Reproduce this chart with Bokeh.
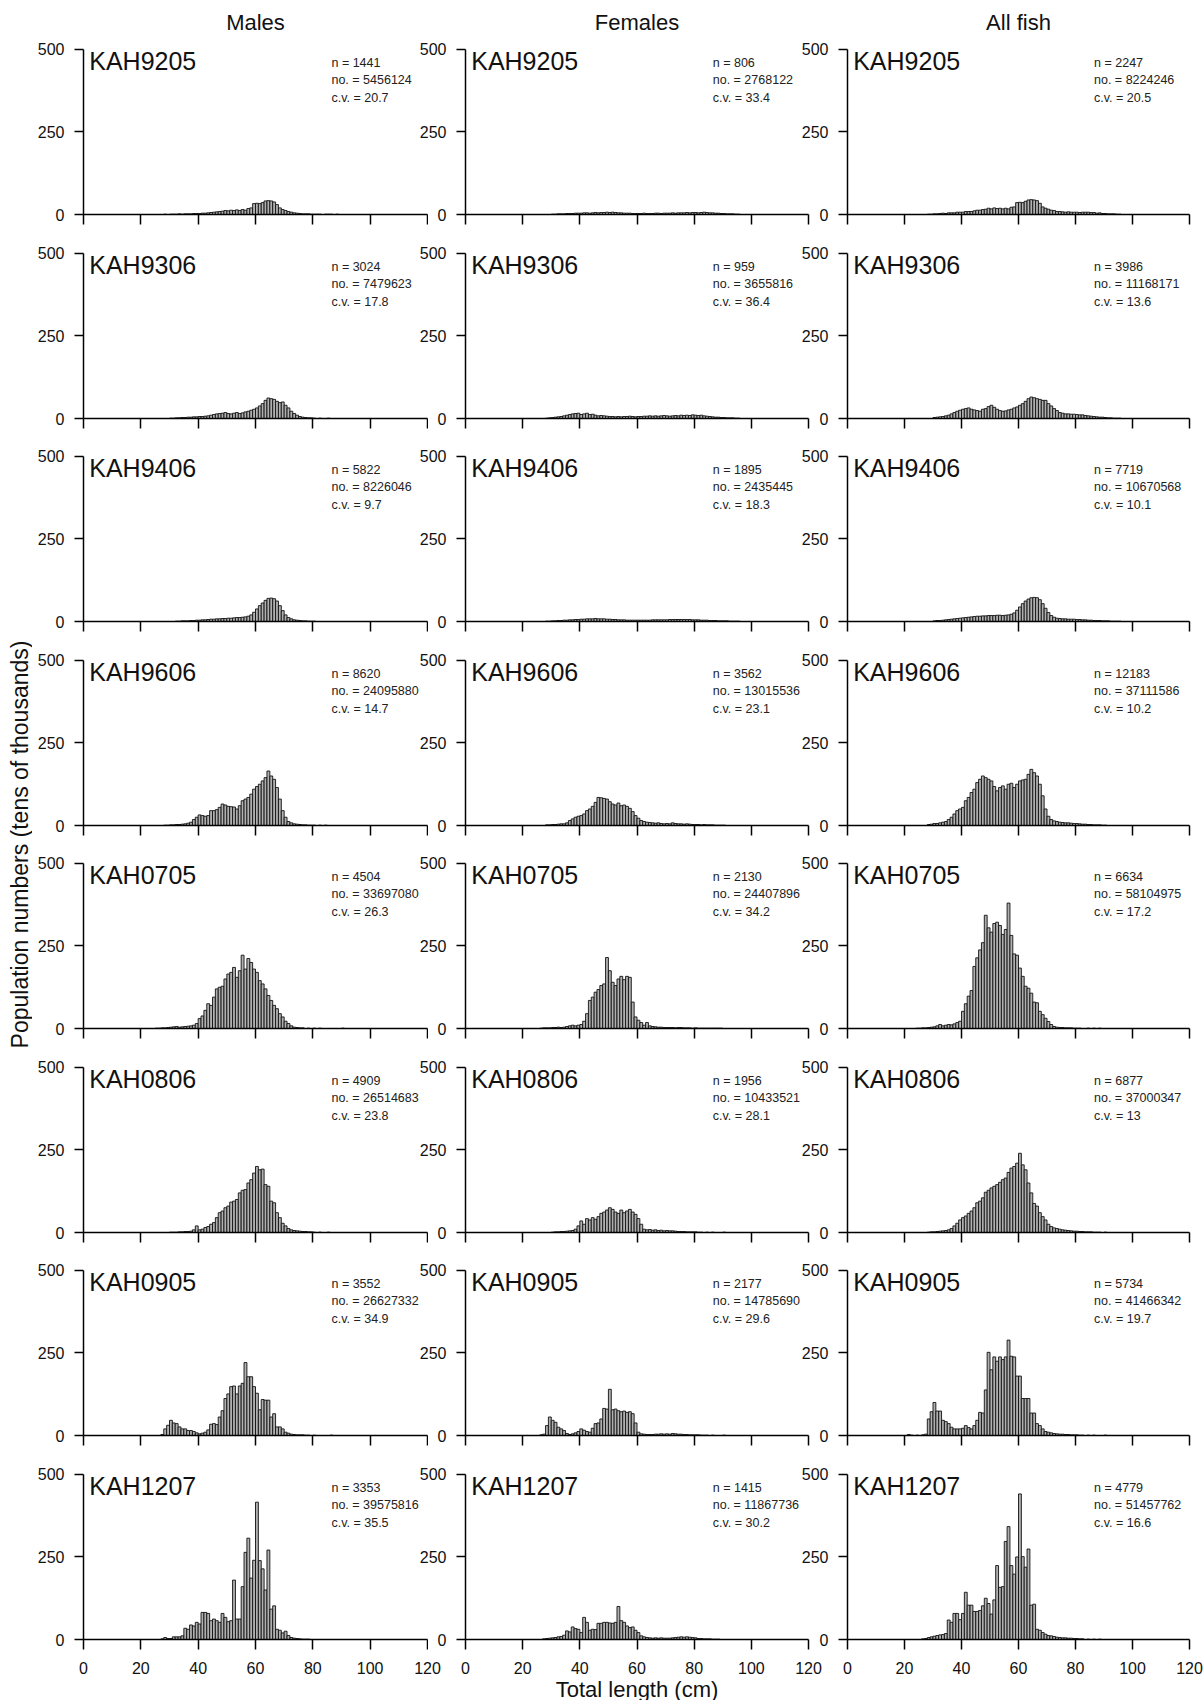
import numpy as np
from bokeh.plotting import figure
from bokeh.layouts import row, column
from bokeh.models import Range1d, FixedTicker, ColumnDataSource
from bokeh.core.properties import value
from bokeh.embed import file_html
from bokeh.resources import INLINE

FONT = "Liberation Sans"

COLUMN_TITLES = ["Males", "Females", "All fish"]
TRIPS = ["KAH9205", "KAH9306", "KAH9406", "KAH9606", "KAH0705", "KAH0806", "KAH0905", "KAH1207"]
X_TICKS = [0, 20, 40, 60, 80, 100, 120]
Y_TICKS = [0, 250, 500]
X_LABEL = "Total length (cm)"
Y_LABEL = "Population numbers (tens of thousands)"

# sample size, estimated number, c.v. per trip
N_MALES = [1441, 3024, 5822, 8620, 4504, 4909, 3552, 3353]
NO_MALES = [5456124, 7479623, 8226046, 24095880, 33697080, 26514683, 26627332, 39575816]
CV_MALES = ["20.7", "17.8", "9.7", "14.7", "26.3", "23.8", "34.9", "35.5"]
N_FEMALES = [806, 959, 1895, 3562, 2130, 1956, 2177, 1415]
NO_FEMALES = [2768122, 3655816, 2435445, 13015536, 24407896, 10433521, 14785690, 11867736]
CV_FEMALES = ["33.4", "36.4", "18.3", "23.1", "34.2", "28.1", "29.6", "30.2"]
N_ALL = [2247, 3986, 7719, 12183, 6634, 6877, 5734, 4779]
NO_ALL = [8224246, 11168171, 10670568, 37111586, 58104975, 37000347, 41466342, 51457762]
CV_ALL = ["20.5", "13.6", "10.1", "10.2", "17.2", "13", "19.7", "16.6"]

# length bin (cm) -> population number (tens of thousands)
MALES_KAH9205 = {28:1,30:1,31:1,32:1,33:2,34:1,35:2,36:2,37:2,38:3,39:3,40:3,41:4,42:4,43:5,44:6,45:7,46:8,47:9,48:10,49:12,50:11,51:13,52:12,53:14,54:12,55:15,56:13,57:18,58:20,59:33,60:34,61:33,62:36,63:41,64:42,65:41,66:38,67:30,68:20,69:15,70:12,71:9,72:7,73:5,74:4,75:3,76:2,77:2,78:2,79:1,80:1,81:1,82:1,84:1,85:1,86:1,88:1}
FEMALES_KAH9205 = {30:1,31:1,32:2,33:2,34:2,35:3,36:3,37:3,38:4,39:4,40:4,41:5,42:5,43:4,44:5,45:6,46:5,47:6,48:6,49:7,50:6,51:7,52:6,53:5,54:5,55:4,56:4,57:4,58:3,59:3,60:3,61:3,62:4,63:3,64:3,65:3,66:4,67:4,68:3,69:4,70:4,71:4,72:5,73:4,74:5,75:5,76:5,77:6,78:5,79:6,80:6,81:5,82:6,83:7,84:6,85:5,86:5,87:4,88:4,89:3,90:3,91:2,92:2,93:2,94:1,95:1}
ALL_KAH9205 = {28:1,29:1,30:2,31:2,32:3,33:4,34:3,35:5,36:5,37:5,38:7,39:7,40:7,41:9,42:9,43:9,44:11,45:13,46:13,47:15,48:16,49:19,50:17,51:20,52:18,53:19,54:17,55:19,56:17,57:22,58:23,59:36,60:37,61:36,62:40,63:44,64:45,65:44,66:42,67:34,68:23,69:19,70:16,71:13,72:12,73:9,74:9,75:8,76:7,77:8,78:7,79:7,80:7,81:6,82:7,83:7,84:7,85:6,86:6,87:4,88:5,89:3,90:3,91:2,92:2,93:2,94:1,95:1}

MALES_KAH9306 = {30:1,31:1,32:2,33:2,34:3,35:3,36:4,37:4,38:5,39:5,40:6,41:6,42:7,43:8,44:10,45:12,46:14,47:15,48:16,49:18,50:15,51:14,52:16,53:18,54:15,55:17,56:20,57:22,58:25,59:28,60:32,61:38,62:45,63:55,64:62,65:60,66:58,67:52,68:48,69:50,70:40,71:32,72:22,73:15,74:10,75:6,76:4,77:3,78:2,79:2,80:1,82:1,85:1}
FEMALES_KAH9306 = {28:1,29:2,30:3,31:4,32:5,33:6,34:8,35:10,36:12,37:14,38:15,39:16,40:12,41:14,42:16,43:12,44:13,45:10,46:8,47:9,48:8,49:7,50:6,51:6,52:5,53:6,54:5,55:6,56:6,57:7,58:6,59:5,60:6,61:6,62:7,63:7,64:8,65:7,66:8,67:7,68:8,69:9,70:8,71:7,72:8,73:9,74:8,75:10,76:9,77:10,78:9,79:11,80:10,81:9,82:10,83:8,84:7,85:6,86:5,87:4,88:4,89:3,90:3,91:2,92:2,93:2,94:1,95:1}
ALL_KAH9306 = {30:3,31:4,32:5,33:6,34:8,35:10,36:14,37:18,38:22,39:25,40:28,41:30,42:32,43:28,44:26,45:24,46:22,47:28,48:30,49:36,50:40,51:34,52:28,53:24,54:22,55:23,56:26,57:28,58:32,59:35,60:40,61:45,62:52,63:60,64:65,65:63,66:60,67:58,68:55,69:55,70:45,71:38,72:30,73:24,74:18,75:16,76:14,77:14,78:13,79:13,80:12,81:11,82:11,83:9,84:8,85:7,86:6,87:5,88:4,89:4,90:3,91:2,92:2,93:1,94:1,95:1}

MALES_KAH9406 = {32:1,33:1,34:2,35:2,36:2,37:3,38:3,39:4,40:4,41:5,42:5,43:6,44:7,45:7,46:8,47:8,48:9,49:9,50:10,51:10,52:11,53:12,54:12,55:13,56:14,57:16,58:20,59:28,60:38,61:48,62:56,63:64,64:70,65:71,66:69,67:62,68:48,69:33,70:20,71:12,72:8,73:5,74:4,75:3,76:2,77:2,78:1,79:1,80:1}
FEMALES_KAH9406 = {28:1,29:1,30:2,31:2,32:3,33:3,34:4,35:4,36:5,37:5,38:6,39:6,40:7,41:7,42:8,43:8,44:8,45:9,46:8,47:8,48:8,49:7,50:7,51:6,52:6,53:5,54:5,55:5,56:4,57:4,58:4,59:4,60:4,61:4,62:4,63:4,64:4,65:5,66:5,67:5,68:5,69:5,70:5,71:6,72:6,73:6,74:6,75:6,76:6,77:6,78:6,79:5,80:5,81:5,82:4,83:4,84:4,85:3,86:3,87:3,88:2,89:2,90:2,91:2,92:1,93:1,94:1,95:1}
ALL_KAH9406 = {30:2,31:3,32:3,33:4,34:5,35:6,36:7,37:8,38:9,39:10,40:11,41:12,42:13,43:14,44:15,45:16,46:16,47:17,48:17,49:18,50:18,51:18,52:19,53:19,54:18,55:19,56:20,57:22,58:26,59:34,60:44,61:54,62:62,63:68,64:72,65:73,66:72,67:66,68:54,69:40,70:27,71:18,72:13,73:10,74:9,75:8,76:8,77:7,78:7,79:7,80:6,81:6,82:5,83:5,84:4,85:4,86:3,87:3,88:3,89:2,90:2,91:2,92:1,93:1,94:1,95:1}

MALES_KAH9606 = {28:1,29:1,30:2,31:2,32:3,33:3,34:4,35:5,36:7,37:10,38:18,39:25,40:32,41:30,42:28,43:30,44:45,45:45,46:48,47:55,48:65,49:62,50:58,51:57,52:56,53:50,54:60,55:75,56:80,57:85,58:95,59:110,60:118,61:125,62:135,63:145,64:165,65:150,66:140,67:115,68:80,69:45,70:25,71:12,72:8,73:5,74:4,75:3,76:2,77:2,78:1,79:1,80:1,82:1,84:1}
FEMALES_KAH9606 = {28:2,29:2,30:3,31:3,32:4,33:5,34:5,35:8,36:15,37:20,38:25,39:28,40:30,41:35,42:45,43:50,44:58,45:70,46:85,47:84,48:82,49:80,50:72,51:65,52:62,53:68,54:60,55:62,56:58,57:52,58:42,59:30,60:22,61:15,62:12,63:10,64:9,65:8,66:7,67:8,68:6,69:5,70:6,71:5,72:8,73:6,74:5,75:5,76:4,77:5,78:4,79:3,80:3,81:3,82:2,83:3,84:2,85:2,86:2,87:1,88:1,89:1,90:1}
ALL_KAH9606 = {28:3,29:4,30:6,31:6,32:8,33:10,34:12,35:18,36:25,37:35,38:45,39:50,40:55,41:75,42:85,43:100,44:110,45:130,46:140,47:150,48:145,49:140,50:135,51:118,52:105,53:115,54:120,55:110,56:125,57:128,58:115,59:125,60:135,61:138,62:140,63:155,64:170,65:160,66:150,67:125,68:90,69:50,70:28,71:18,72:14,73:12,74:10,75:9,76:8,77:8,78:7,79:6,80:6,81:5,82:4,83:4,84:3,85:3,86:2,87:2,88:2,89:1,90:1}

MALES_KAH0705 = {25:1,26:1,27:2,28:2,29:3,30:4,31:5,32:6,33:4,34:5,35:6,36:7,37:8,38:10,39:15,40:30,41:38,42:55,43:75,44:70,45:95,46:120,47:125,48:128,49:150,50:165,51:170,52:185,53:155,54:175,55:222,56:180,57:212,58:200,59:180,60:170,61:145,62:135,63:120,64:100,65:85,66:70,67:60,68:45,69:35,70:22,71:15,72:8,73:4,74:3,75:2,76:2,78:1,80:1,82:1,90:1}
FEMALES_KAH0705 = {26:1,27:2,28:2,29:2,30:3,31:3,32:4,33:3,34:4,35:6,36:8,37:10,38:8,39:10,40:12,41:22,42:45,43:85,44:95,45:110,46:118,47:130,48:135,49:215,50:175,51:140,52:130,53:150,54:158,55:148,56:158,57:155,58:80,59:35,60:25,61:18,62:10,63:18,64:8,65:6,66:5,67:4,68:4,69:3,70:3,71:3,72:3,73:2,74:3,75:3,76:2,77:2,78:2,79:1,80:2,81:1,82:1,83:1,84:1,85:1,86:1,87:1,88:1,89:1}
ALL_KAH0705 = {24:1,25:1,26:2,27:2,28:3,29:4,30:5,31:8,32:12,33:8,34:10,35:12,36:11,37:14,38:18,39:22,40:52,41:75,42:98,43:115,44:188,45:214,46:238,47:260,48:343,49:305,50:292,51:318,52:322,53:312,54:285,55:300,56:380,57:282,58:226,59:222,60:183,61:158,62:128,63:122,64:107,65:80,66:78,67:52,68:42,69:31,70:21,71:12,72:6,73:4,74:3,75:3,76:2,77:2,78:2,79:1,80:1,81:1,84:1,86:1,88:1}

MALES_KAH0806 = {30:1,31:1,32:1,33:2,34:2,35:3,36:3,37:4,38:8,39:20,40:8,41:10,42:15,43:18,44:25,45:30,46:45,47:60,48:65,49:75,50:80,51:92,52:95,53:100,54:120,55:128,56:130,57:150,58:160,59:180,60:200,61:190,62:192,63:145,64:140,65:95,66:90,67:60,68:45,69:28,70:20,71:12,72:8,73:6,74:5,75:4,76:3,77:3,78:2,79:2,80:1,82:1,85:1}
FEMALES_KAH0806 = {30:1,31:2,32:2,33:3,34:3,35:4,36:5,37:6,38:10,39:20,40:35,41:25,42:42,43:38,44:45,45:40,46:48,47:58,48:62,49:68,50:75,51:70,52:62,53:58,54:68,55:60,56:65,57:70,58:62,59:55,60:42,61:25,62:10,63:8,64:9,65:7,66:8,67:6,68:7,69:5,70:6,71:5,72:5,73:4,74:3,75:3,76:3,77:2,78:2,79:2,80:2,81:1,82:1,84:1,86:1,90:1}
ALL_KAH0806 = {28:1,29:2,30:2,31:3,32:4,33:5,34:6,35:8,36:12,37:20,38:28,39:38,40:45,41:50,42:58,43:65,44:75,45:90,46:95,47:105,48:122,49:128,50:135,51:140,52:145,53:152,54:160,55:165,56:182,57:195,58:200,59:210,60:240,61:205,62:190,63:150,64:120,65:88,66:80,67:60,68:48,69:38,70:25,71:18,72:14,73:12,74:10,75:8,76:7,77:6,78:5,79:4,80:4,81:3,82:3,83:2,84:2,85:2,86:1,87:1,88:1,90:1}

MALES_KAH0905 = {27:3,28:20,29:31,30:46,31:38,32:36,33:26,34:20,35:20,36:15,37:15,38:12,39:8,40:5,41:7,42:10,43:17,44:34,45:36,46:33,47:56,48:75,49:112,50:126,51:148,52:150,53:126,54:150,55:158,56:221,57:178,58:178,59:148,60:128,61:78,62:109,63:107,64:107,65:56,66:66,67:26,68:26,69:20,70:10,71:7,72:4,73:3,74:2,75:2,76:2,77:1,78:1,80:1,86:1}
FEMALES_KAH0905 = {26:2,27:4,28:30,29:56,30:46,31:40,32:25,33:20,34:15,35:6,36:3,37:5,38:8,39:12,40:20,41:16,42:12,43:10,44:22,45:36,46:38,47:50,48:82,49:80,50:140,51:78,52:80,53:75,54:72,55:74,56:70,57:72,58:66,59:38,60:10,61:5,62:4,63:3,64:3,65:3,66:4,67:4,68:5,69:4,70:5,71:4,72:6,73:5,74:4,75:4,76:3,77:3,78:2,79:2,80:2,81:2,82:1,83:1,84:1,86:1,90:1}
ALL_KAH0905 = {21:3,22:1,24:1,26:2,27:4,28:50,29:72,30:100,31:74,32:74,33:46,34:42,35:36,36:25,37:20,38:20,39:20,40:22,41:30,42:24,43:20,44:30,45:46,46:70,47:68,48:138,49:252,50:199,51:238,52:225,53:238,54:230,55:238,56:289,57:240,58:238,59:180,60:180,61:112,62:112,63:112,64:68,65:68,66:36,67:30,68:20,69:12,70:10,71:8,72:6,73:5,74:4,75:4,76:3,77:3,78:2,79:2,80:2,81:1,82:1,84:1,86:1,90:1}

MALES_KAH1207 = {27:2,28:6,29:3,30:3,31:8,32:8,33:8,34:11,35:34,36:31,37:44,38:41,39:52,40:47,41:82,42:82,43:79,44:57,45:62,46:57,47:52,48:79,49:67,50:54,51:57,52:180,53:62,54:62,55:160,56:264,57:307,58:186,59:240,60:416,61:239,62:214,63:150,64:271,65:92,66:102,67:31,68:28,69:20,70:25,71:12,72:6,73:4,74:3,75:2,76:1,77:1,78:1}
FEMALES_KAH1207 = {27:2,28:3,29:4,30:5,31:6,32:8,33:9,34:13,35:26,36:23,37:38,38:33,39:31,40:21,41:67,42:52,43:28,44:31,45:30,46:49,47:49,48:52,49:52,50:50,51:49,52:52,53:100,54:57,55:52,56:41,57:36,58:38,59:28,60:21,61:11,62:8,63:6,64:5,65:4,66:5,67:4,68:5,69:4,70:4,71:4,72:5,73:6,74:7,75:8,76:7,77:8,78:7,79:6,80:5,81:3,82:3,83:2,84:2,85:2,86:1,87:1,88:1}
ALL_KAH1207 = {26:2,27:3,28:6,29:8,30:10,31:12,32:14,33:15,34:18,35:59,36:52,37:79,38:79,39:60,40:79,41:143,42:104,43:104,44:85,45:85,46:88,47:102,48:125,49:109,50:77,51:120,52:224,53:158,54:160,55:297,56:342,57:224,58:198,59:250,60:441,61:251,62:219,63:274,64:104,65:107,66:31,67:28,68:21,69:16,70:12,71:11,72:9,73:7,74:6,75:5,76:5,77:4,78:4,79:3,80:3,81:2,82:2,84:1,86:1,88:1}

MALES = [MALES_KAH9205, MALES_KAH9306, MALES_KAH9406, MALES_KAH9606, MALES_KAH0705, MALES_KAH0806, MALES_KAH0905, MALES_KAH1207]
FEMALES = [FEMALES_KAH9205, FEMALES_KAH9306, FEMALES_KAH9406, FEMALES_KAH9606, FEMALES_KAH0705, FEMALES_KAH0806, FEMALES_KAH0905, FEMALES_KAH1207]
ALL = [ALL_KAH9205, ALL_KAH9306, ALL_KAH9406, ALL_KAH9606, ALL_KAH0705, ALL_KAH0806, ALL_KAH0905, ALL_KAH1207]

SERIES = [MALES, FEMALES, ALL]
STATS = [(N_MALES, NO_MALES, CV_MALES), (N_FEMALES, NO_FEMALES, CV_FEMALES), (N_ALL, NO_ALL, CV_ALL)]

# ---------------- layout geometry ----------------
STRIP_W = 32
# panel columns: (width, border_left, border_right, margin_left)
PANEL_GEOM = [(396, 51, 1, 0), (397, 52, 2, -15), (409, 52, 15, -15)]
# header / tick-label columns (no overlap)
EDGE_GEOM = [(416, 51, 21), (380, 17, 20), (376, 19, 15)]
FRAME_H = 170
TOP_B = 14
FIRST_TOP_B = 8
BOTTOMS = [214, 418, 621, 825, 1028, 1232, 1435, 1639]
HEADER_H = BOTTOMS[0] - FRAME_H - FIRST_TOP_B
LAST_BOTTOM_B = 14
TICKROW_H = 1700 - (BOTTOMS[-1] + LAST_BOTTOM_B)

BAR_FILL = "#b0b0b0"


def panel(hist, trip, n, no, cv, c, r):
    w, bl, br, ml = PANEL_GEOM[c]
    tb = FIRST_TOP_B if r == 0 else TOP_B
    if r < len(BOTTOMS) - 1:
        bb = BOTTOMS[r + 1] - BOTTOMS[r] - TOP_B - FRAME_H
    else:
        bb = LAST_BOTTOM_B
    h = tb + FRAME_H + bb
    p = figure(width=w, height=h, x_range=Range1d(0, 120), y_range=Range1d(0, 515),
               output_backend="svg", toolbar_location=None, title=None,
               min_border_left=bl, min_border_right=br, min_border_top=tb, min_border_bottom=bb,
               outline_line_color=None, background_fill_color=None, border_fill_color=None,
               margin=(0, 0, 0, ml))
    p.grid.visible = False
    xs = sorted(hist)
    src = ColumnDataSource(dict(left=[float(k) for k in xs], right=[float(k) + 1 for k in xs],
                                top=[float(hist[k]) for k in xs]))
    p.quad(left="left", right="right", bottom=0, top="top", source=src,
           fill_color=BAR_FILL, line_color="#111111", line_width=0.9)
    p.text(x=[2], y=[508], text=[trip], text_font=value(FONT), text_font_size="25px",
           text_baseline="top", text_align="left", text_color="#111111")
    p.text(x=[86.5], y=[481], text=["n = %d\nno. = %d\nc.v. = %s" % (n, no, cv)],
           text_font=value(FONT), text_font_size="12.5px", text_line_height=1.25,
           text_baseline="top", text_align="left", text_color="#222222")
    xa = p.xaxis[0]
    xa.ticker = FixedTicker(ticks=X_TICKS)
    xa.major_tick_in = 0
    xa.major_tick_out = 10
    xa.minor_tick_line_color = None
    # tick labels are shown once, in the row below the last panels
    xa.major_label_text_color = None
    xa.major_label_text_font_size = "1px"
    xa.major_label_standoff = 0
    xa.axis_line_width = 1.5
    xa.major_tick_line_width = 1.5
    ya = p.yaxis[0]
    ya.ticker = FixedTicker(ticks=Y_TICKS)
    ya.bounds = (0, 500)
    ya.major_tick_in = 0
    ya.major_tick_out = 9
    ya.minor_tick_line_color = None
    ya.major_label_standoff = 10
    ya.major_label_text_font = FONT
    ya.major_label_text_font_size = "16px"
    ya.major_label_text_color = "#111111"
    ya.axis_line_width = 1.5
    ya.major_tick_line_width = 1.5
    return p


def header(c):
    w, bl, br = EDGE_GEOM[c]
    p = figure(width=w, height=HEADER_H, x_range=Range1d(0, 120), y_range=Range1d(0, HEADER_H),
               output_backend="svg", toolbar_location=None, x_axis_location=None, y_axis_location=None,
               title=None,
               min_border_left=bl, min_border_right=br, min_border_top=0, min_border_bottom=0,
               outline_line_color=None, background_fill_color=None, border_fill_color=None)
    p.grid.visible = False
    p.text(x=[60], y=[HEADER_H - 22], text=[COLUMN_TITLES[c]], text_font=value(FONT),
           text_font_size="22px", text_align="center", text_baseline="middle", text_color="#111111")
    return p


def ticks_row(c):
    w, bl, br = EDGE_GEOM[c]
    p = figure(width=w, height=TICKROW_H, x_range=Range1d(0, 120), y_range=Range1d(0, 1),
               output_backend="svg", toolbar_location=None, y_axis_location=None, title=None,
               min_border_left=bl, min_border_right=br, min_border_top=0,
               min_border_bottom=TICKROW_H - 3,
               outline_line_color=None, background_fill_color=None, border_fill_color=None)
    p.grid.visible = False
    xa = p.xaxis[0]
    xa.ticker = FixedTicker(ticks=X_TICKS)
    xa.axis_line_color = None
    xa.major_tick_line_color = None
    xa.minor_tick_line_color = None
    xa.major_label_standoff = 2
    xa.major_label_text_font = FONT
    xa.major_label_text_font_size = "16px"
    xa.major_label_text_color = "#111111"
    if c == 1:
        xa.axis_label = X_LABEL
        xa.axis_label_standoff = 0
        xa.axis_label_text_font = FONT
        xa.axis_label_text_font_size = "22px"
        xa.axis_label_text_font_style = "normal"
        xa.axis_label_text_color = "#111111"
    return p


strip = figure(width=STRIP_W, height=1700, x_range=Range1d(0, STRIP_W), y_range=Range1d(0, 1700),
               output_backend="svg", toolbar_location=None, x_axis_location=None, y_axis_location=None,
               title=None, min_border=0, outline_line_color=None)
strip.grid.visible = False
strip.text(x=[19], y=[856], text=[Y_LABEL], angle=np.pi / 2, text_font=value(FONT),
           text_font_size="23px", text_align="center", text_baseline="middle", text_color="#111111")

rows = [row(*[header(c) for c in range(3)])]
for r, trip in enumerate(TRIPS):
    figs = []
    for c in range(3):
        ns, nos, cvs = STATS[c]
        figs.append(panel(SERIES[c][r], trip, ns[r], nos[r], cvs[r], c, r))
    rows.append(row(*figs))
rows.append(row(*[ticks_row(c) for c in range(3)]))

layout = row(strip, column(*rows))

open("out.html", "w").write(file_html(layout, INLINE))
